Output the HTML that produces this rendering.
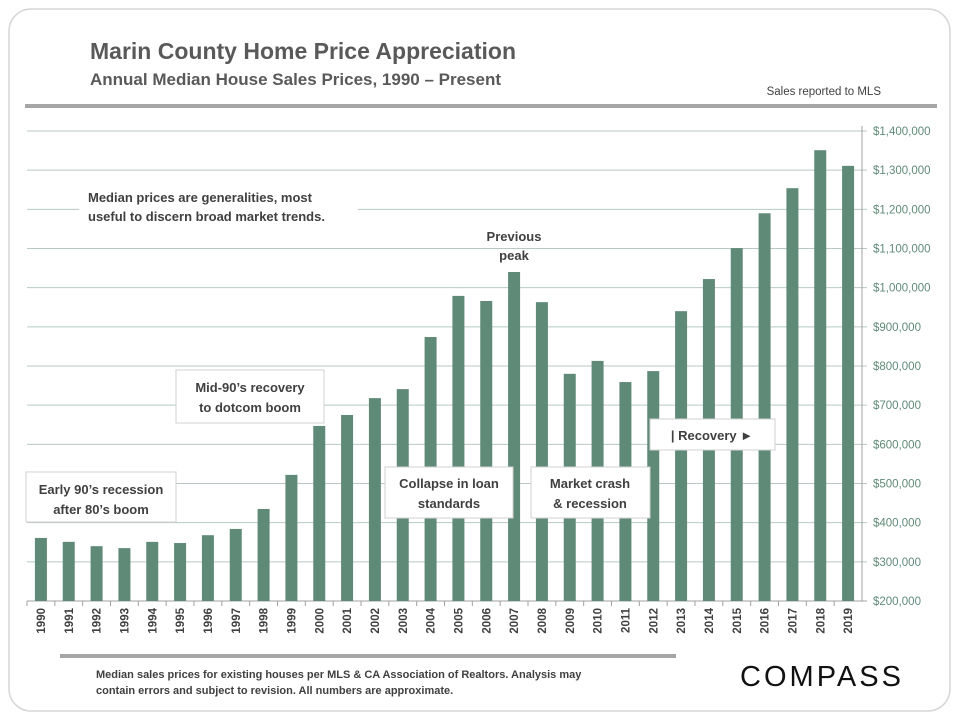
<!DOCTYPE html>
<html><head><meta charset="utf-8"><style>
body{margin:0;width:960px;height:720px;background:#fff;font-family:"Liberation Sans",sans-serif;overflow:hidden}
svg text{font-family:"Liberation Sans",sans-serif}
</style></head><body>
<svg id="c" width="960" height="720">
<rect x="9" y="9" width="941" height="702" rx="22" fill="#fff" stroke="#d6d6d6" stroke-width="1.5"/>
<text x="90" y="59" font-size="23" font-weight="bold" fill="#595959">Marin County Home Price Appreciation</text>
<text x="90" y="85" font-size="17" font-weight="bold" fill="#595959">Annual Median House Sales Prices, 1990 – Present</text>
<text x="881" y="95" font-size="11.5" fill="#404040" text-anchor="end">Sales reported to MLS</text>
<rect x="25" y="104" width="912" height="4" fill="#a6a6a6"/>
<g id="grid"></g><g id="bars"></g><g id="axis"></g>
<g>
<rect x="79" y="183" width="279" height="46" fill="#fff"/>
<text x="88" y="202" font-size="13" font-weight="bold" fill="#404040">Median prices are generalities, most</text>
<text x="88" y="221" font-size="13" font-weight="bold" fill="#404040">useful to discern broad market trends.</text>
<text x="514" y="241" font-size="13" font-weight="bold" fill="#404040" text-anchor="middle">Previous</text>
<text x="514" y="260" font-size="13" font-weight="bold" fill="#404040" text-anchor="middle">peak</text>
<rect x="176" y="370" width="148" height="53" fill="#fff" stroke="#d0d0d0"/>
<text x="250" y="392" font-size="13" font-weight="bold" fill="#404040" text-anchor="middle">Mid-90’s recovery</text>
<text x="250" y="412" font-size="13" font-weight="bold" fill="#404040" text-anchor="middle">to dotcom boom</text>
<rect x="26" y="472" width="150" height="50" fill="#fff" stroke="#d0d0d0"/>
<text x="101" y="494" font-size="13" font-weight="bold" fill="#404040" text-anchor="middle">Early 90’s recession</text>
<text x="101" y="514" font-size="13" font-weight="bold" fill="#404040" text-anchor="middle">after 80’s boom</text>
<rect x="385" y="467" width="128" height="51" fill="#fff" stroke="#d0d0d0"/>
<text x="449" y="488" font-size="13" font-weight="bold" fill="#404040" text-anchor="middle">Collapse in loan</text>
<text x="449" y="508" font-size="13" font-weight="bold" fill="#404040" text-anchor="middle">standards</text>
<rect x="531" y="467" width="119" height="51" fill="#fff" stroke="#d0d0d0"/>
<text x="590" y="488" font-size="13" font-weight="bold" fill="#404040" text-anchor="middle">Market crash</text>
<text x="590" y="508" font-size="13" font-weight="bold" fill="#404040" text-anchor="middle">&amp; recession</text>
<rect x="650" y="419" width="125" height="31" fill="#fff" stroke="#d0d0d0"/>
<text x="712" y="440" font-size="13" font-weight="bold" fill="#404040" text-anchor="middle">| Recovery ►</text>
</g>
<rect x="60" y="654" width="616" height="4" fill="#a6a6a6"/>
<text x="96" y="678" font-size="11" font-weight="bold" fill="#404040">Median sales prices for existing houses per MLS &amp; CA Association of Realtors. Analysis may</text>
<text x="96" y="694" font-size="11" font-weight="bold" fill="#404040">contain errors and subject to revision. All numbers are approximate.</text>
<text x="822" y="686" font-size="29" fill="#111" text-anchor="middle" letter-spacing="3">COMPASS</text>
</svg>
<script>
const years=["1990","1991","1992","1993","1994","1995","1996","1997","1998","1999","2000","2001","2002","2003","2004","2005","2006","2007","2008","2009","2010","2011","2012","2013","2014","2015","2016","2017","2018","2019"];
const prices=[361000,351000,340000,335000,351000,348000,368000,384000,435000,522000,647000,675000,718000,741000,874000,979000,966000,1040000,963000,780000,813000,759000,787000,940000,1022000,1101000,1190000,1254000,1351000,1311000];
const ticks=[200000,300000,400000,500000,600000,700000,800000,900000,1000000,1100000,1200000,1300000,1400000];
const NS='http://www.w3.org/2000/svg';
const y0=601,y1=131,vMin=200000,vMax=1400000,xL=27,xR=862;
const yS=v=>y0-(v-vMin)/(vMax-vMin)*(y0-y1);
const step=(xR-xL)/years.length;
const xS=i=>xL+step*(i+0.5);
function mk(t,a,p){const e=document.createElementNS(NS,t);for(const k in a)e.setAttribute(k,a[k]);p.appendChild(e);return e;}
const g=document.getElementById('grid'),b=document.getElementById('bars'),ax=document.getElementById('axis');
ticks.forEach(v=>{const y=yS(v);
 const l=mk('line',{x1:xL,x2:xR+5,y1:y,y2:y,stroke:v===vMin?'#a0a0a0':'#b7c9c2','stroke-width':1},g);
 
 
 const t=mk('text',{x:xR+11,y:y+4,'font-size':11.5,fill:'#5f8a78'},ax);
 t.textContent='$'+v.toLocaleString('en-US');
 
 
});
const al=mk('line',{x1:xR,x2:xR,y1:y1-5,y2:y0,stroke:'#a0a0a0'},ax);


years.forEach((yr,i)=>{const x=xS(i),y=yS(prices[i]);
 const r=mk('rect',{x:x-6,y:y,width:12,height:y0-y,fill:'#5f8a78'},b);
 
 
 mk('line',{x1:xL+step*i,x2:xL+step*i,y1:y0,y2:y0+5,stroke:'#a0a0a0'},ax);
 const t=mk('text',{x:0,y:0,'font-size':11.5,'font-weight':'bold',fill:'#404040','text-anchor':'end',transform:`translate(${x+4},${y0+7}) rotate(-90)`},ax);
 t.textContent=yr;
 
 
});
</script>
</body></html>
